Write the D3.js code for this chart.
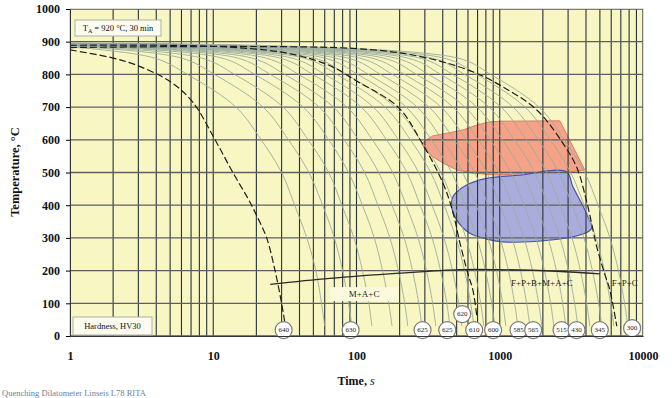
<!DOCTYPE html>
<html><head><meta charset="utf-8">
<script src="https://cdn.jsdelivr.net/npm/d3@7"></script>
<style>
html,body{margin:0;padding:0;background:#fff;}
svg{display:block;font-family:"Liberation Serif","Times New Roman",serif;}
</style></head><body>
<svg id="chart" width="672" height="398"></svg>
<script>
// CCT diagram: cooling curves on a log time axis with transformation fields

const timeTicks = [1, 10, 100, 1000, 10000];
const tempTicks = [0, 100, 200, 300, 400, 500, 600, 700, 800, 900, 1000];

// thin grey cooling curves: [time s, temperature °C]
const grayCurves = [
  [[1,884],[3.9,850],[6.6,800],[14.4,700],[21.6,600],[30,500],[37,400],[45,300],[52,200],[57,100],[60,30]],
  [[1,886],[6,850],[10.2,800],[22.3,700],[33.5,600],[46.5,500],[58,400],[70,300],[80,200],[88,100],[93,30]],
  [[1,887],[8.3,850],[14.1,800],[30.7,700],[46,600],[64,500],[79,400],[96,300],[110,200],[122,100],[128,30]],
  [[1,888],[11.5,850],[19.5,800],[42.5,700],[64,600],[88,500],[110,400],[133,300],[152,200],[168,100],[177,30]],
  [[1,889],[14.8,850],[25,800],[55,700],[82,600],[114,500],[141,400],[171,300],[196,200],[217,100],[228,30]],
  [[1,889],[18.6,850],[31.5,800],[69,700],[103,600],[143,500],[177,400],[215,300],[246,200],[272,100],[286,30]],
  [[1,890],[23.3,850],[39.4,800],[86,700],[129,600],[179,500],[222,400],[269,300],[308,200],[340,100],[358,30]],
  [[1,890],[29.2,850],[49.4,800],[108,700],[162,600],[225,500],[278,400],[337,300],[386,200],[427,100],[449,30]],
  [[1,891],[35.4,850],[60,800],[131,700],[196,600],[272,500],[337,400],[408,300],[468,200],[517,100],[544,30]],
  [[1,891],[42.9,850],[72.6,800],[158,700],[238,600],[330,500],[409,400],[495,300],[568,200],[627,100],[660,30]],
  [[1,892],[50.4,850],[85,800],[186,700],[279,600],[388,500],[481,400],[581,300],[667,200],[736,100],[775,30]],
  [[1,892],[60,850],[102,800],[222,700],[333,600],[462,500],[573,400],[693,300],[795,200],[878,100],[924,30]],
  [[1,892],[71.7,850],[121,800],[265,700],[397,600],[552,500],[684,400],[827,300],[949,200],[1048,100],[1103,30]],
  [[1,893],[86.9,850],[147,800],[321,700],[481,600],[669,500],[829,400],[1003,300],[1150,200],[1270,100],[1337,30]],
  [[1,893],[105,850],[178,800],[389,700],[584,600],[811,500],[1006,400],[1217,300],[1395,200],[1541,100],[1622,30]],
  [[1,893],[128,850],[216,800],[472,700],[708,600],[984,500],[1220,400],[1475,300],[1692,200],[1869,100],[1967,30]],
  [[1,894],[155,850],[262,800],[572,700],[859,600],[1193,500],[1479,400],[1789,300],[2051,200],[2266,100],[2385,30]],
  [[1,894],[188,850],[318,800],[694,700],[1041,600],[1447,500],[1794,400],[2170,300],[2488,200],[2748,100],[2893,30]],
  [[1,894],[228,850],[386,800],[842,700],[1263,600],[1754,500],[2175,400],[2631,300],[3017,200],[3333,100],[3508,30]],
  [[1,895],[277,850],[468,800],[1021,700],[1531,600],[2127,500],[2637,400],[3191,300],[3658,200],[4041,100],[4254,30]],
  [[1,895],[335,850],[567,800],[1238,700],[1857,600],[2580,500],[3199,400],[3869,300],[4437,200],[4901,100],[5159,30]],
  [[1,895],[407,850],[688,800],[1501,700],[2252,600],[3128,500],[3879,400],[4692,300],[5380,200],[5943,100],[6256,30]],
  [[1,896],[509,850],[862,800],[1880,700],[2820,600],[3917,500],[4857,400],[5876,300],[6737,200],[7442,100],[7834,30]]
];

// dashed black cooling curves
const dashedCurves = [
  [[1,875],[2,850],[3,826],[5,778],[7.2,715],[10.3,600],[13.7,500],[17.5,420],[20,370],[23.6,300],[27,200],[30,100],[31.5,45]],
  [[1,889],[10,886],[30,868],[50,845],[68,823],[100,780],[195,700],[280,598],[401,468],[470,380],[527,285],[600,190],[649,141],[692,60]],
  [[1,882],[100,879],[290,853],[649,808],[1051,762],[1815,691],[2755,590],[3452,515],[4100,400],[4760,272],[5400,190],[5866,141],[6562,30]]
];

// martensite start line
const msLine = [[25,158],[65,176],[200,192],[525,203],[1000,203],[2500,198],[5000,190]];

// ferrite/pearlite field outline
const fpField = [[285,588],[308,600],[341,612],[425,620],[553,630],[689,645],[853,655],[1051,657],[2626,658],
  [3925,508],[3085,502],[1622,498],[950,492],[649,498],[500,508],[401,529],[341,548],[308,564]];
// bainite field outline
const bField = [[2924,502],[1380,492],[809,482],[587,462],[500,440],[471,426],[461,395],[500,355],
  [618,314],[800,297],[1052,288],[2122,292],[3622,309],[4371,329],[4034,375],[3237,457]];

// hardness HV30 markers
const hvValues = [640, 630, 625, 625, 620, 610, 600, 585, 565, 515, 430, 345, 300];
const hvTimes  = [31, 91, 289, 430, 547, 663, 899, 1352, 1711, 2700, 3434, 4993, 8395];
const hvTemps  = [18, 18, 18, 18, 67, 18, 18, 18, 18, 18, 18, 18, 24];

// phase labels
const phaseLabels = ["M+A+C", "F+P+B+M+A+C", "F+P+C"];
const phaseTimes  = [113, 1967, 7464];
const phaseTemps  = [128, 162, 162];

const svg = d3.select("#chart");
const x = d3.scaleLog().domain([1, 10000]).range([70, 643]);
const y = d3.scaleLinear().domain([0, 1000]).range([336, 9]);

svg.append("defs").append("clipPath").attr("id", "plotClip")
  .append("rect").attr("x", x(1)).attr("y", y(1000))
  .attr("width", x(10000) - x(1)).attr("height", y(0) - y(1000));

// plot background
svg.append("rect").attr("x", x(1)).attr("y", y(1000))
  .attr("width", x(10000) - x(1)).attr("height", y(0) - y(1000))
  .attr("fill", "#f8f6c3").attr("stroke", "#b9b9a8").attr("stroke-width", 1);

const plot = svg.append("g").attr("clip-path", "url(#plotClip)");

const poly = d3.line().x(d => x(d[0])).y(d => y(d[1])).curve(d3.curveLinearClosed);
const blob = d3.line().x(d => x(d[0])).y(d => y(d[1])).curve(d3.curveCatmullRomClosed.alpha(0.5));
plot.append("path").attr("d", poly(fpField))
  .attr("fill", "#f4937c").attr("fill-opacity", 0.85)
  .attr("stroke", "#e27a64").attr("stroke-width", 1);
plot.append("path").attr("d", blob(bField))
  .attr("fill", "#a2a5e0").attr("fill-opacity", 0.92)
  .attr("stroke", "#4452b0").attr("stroke-width", 1.2);

// grid
const vGrid = [];
for (let d = 1; d < 10000; d *= 10) for (let k = 1; k < 10; k++) vGrid.push(k * d);
vGrid.push(10000);
plot.selectAll(".vg").data(vGrid).enter().append("line")
  .attr("x1", d => x(d)).attr("x2", d => x(d))
  .attr("y1", y(1000)).attr("y2", y(0))
  .attr("stroke", "#27323c").attr("stroke-width", 1.1);
plot.selectAll(".hg").data(tempTicks).enter().append("line")
  .attr("x1", x(1)).attr("x2", x(10000))
  .attr("y1", d => y(d)).attr("y2", d => y(d))
  .attr("stroke", "#5e6060").attr("stroke-width", 1.3);

const line = d3.line().x(d => x(d[0])).y(d => y(d[1])).curve(d3.curveCatmullRom.alpha(0.5));
plot.selectAll(".gc").data(grayCurves).enter().append("path")
  .attr("d", line).attr("fill", "none")
  .attr("stroke", "#9bad9e").attr("stroke-width", 0.9);
plot.selectAll(".dc").data(dashedCurves).enter().append("path")
  .attr("d", line).attr("fill", "none")
  .attr("stroke", "#1e1e1e").attr("stroke-width", 1.2).attr("stroke-dasharray", "7,3");
plot.append("path").attr("d", line(msLine)).attr("fill", "none")
  .attr("stroke", "#2a2a2a").attr("stroke-width", 1.3);

// phase labels
phaseLabels.forEach((t, i) => {
  const g = svg.append("g");
  if (i === 0) {
    g.append("rect").attr("x", x(phaseTimes[i]) - 34).attr("y", y(phaseTemps[i]) - 7)
      .attr("width", 68).attr("height", 14).attr("fill", "#fbfadc");
  }
  g.append("text").attr("x", x(phaseTimes[i])).attr("y", y(phaseTemps[i]))
    .attr("text-anchor", "middle").attr("dominant-baseline", "central")
    .attr("font-size", 9).attr("fill", "#222").text(t);
});

// info boxes
const info = svg.append("g");
info.append("rect").attr("x", 75).attr("y", 20).attr("width", 86).attr("height", 16)
  .attr("fill", "#fbfbf0").attr("stroke", "#b0b0a0");
const ta = info.append("text").attr("x", 118).attr("y", 31).attr("text-anchor", "middle")
  .attr("font-size", 8.5).attr("fill", "#111");
ta.append("tspan").text("T");
ta.append("tspan").attr("font-size", 6).attr("dy", 2).text("A");
ta.append("tspan").attr("dy", -2).text(" = 920 °C, 30 min");

info.append("rect").attr("x", 73).attr("y", 317).attr("width", 79).attr("height", 18)
  .attr("fill", "#fbfbf0").attr("stroke", "#b0b0a0");
info.append("text").attr("x", 112.5).attr("y", 329).attr("text-anchor", "middle")
  .attr("font-size", 8.5).attr("fill", "#111").text("Hardness, HV30");

// hardness markers
const hv = svg.append("g");
hvValues.forEach((v, i) => {
  hv.append("circle").attr("cx", x(hvTimes[i])).attr("cy", y(hvTemps[i])).attr("r", 8.5)
    .attr("fill", "#fff").attr("stroke", "#7a7a7a").attr("stroke-width", 1.2);
  hv.append("text").attr("x", x(hvTimes[i])).attr("y", y(hvTemps[i]))
    .attr("text-anchor", "middle").attr("dominant-baseline", "central")
    .attr("font-size", 7).attr("fill", "#222").text(v);
});

// axes
const yAxis = svg.append("g").attr("transform", `translate(${x(1)},0)`)
  .call(d3.axisLeft(y).tickValues(tempTicks).tickSize(4).tickPadding(6).tickFormat(d3.format("d")));
yAxis.select(".domain").attr("stroke", "#333");
yAxis.selectAll("text").attr("font-size", 12).attr("font-weight", "bold")
  .attr("font-family", "Liberation Serif, serif").attr("fill", "#111");

const xAxis = svg.append("g").attr("transform", `translate(0,${y(0)})`)
  .call(d3.axisBottom(x).tickValues(timeTicks).tickSize(0).tickPadding(15).tickFormat(d3.format("d")));
xAxis.select(".domain").attr("stroke", "#333");
xAxis.selectAll("text").attr("font-size", 12).attr("font-weight", "bold")
  .attr("font-family", "Liberation Serif, serif").attr("fill", "#111");

const xt = svg.append("text").attr("x", 356).attr("y", 385).attr("text-anchor", "middle")
  .attr("font-size", 12).attr("fill", "#111");
xt.append("tspan").attr("font-weight", "bold").text("Time, ");
xt.append("tspan").attr("font-style", "italic").text("s");

svg.append("text").attr("transform", "translate(19,172) rotate(-90)")
  .attr("text-anchor", "middle").attr("font-size", 12.5).attr("font-weight", "bold")
  .attr("fill", "#111").text("Temperature, °C");

svg.append("text").attr("x", 2).attr("y", 396).attr("font-size", 8.5)
  .attr("fill", "#6f8196").text("Quenching Dilatometer Linseis L78 RITA");
</script></body></html>
